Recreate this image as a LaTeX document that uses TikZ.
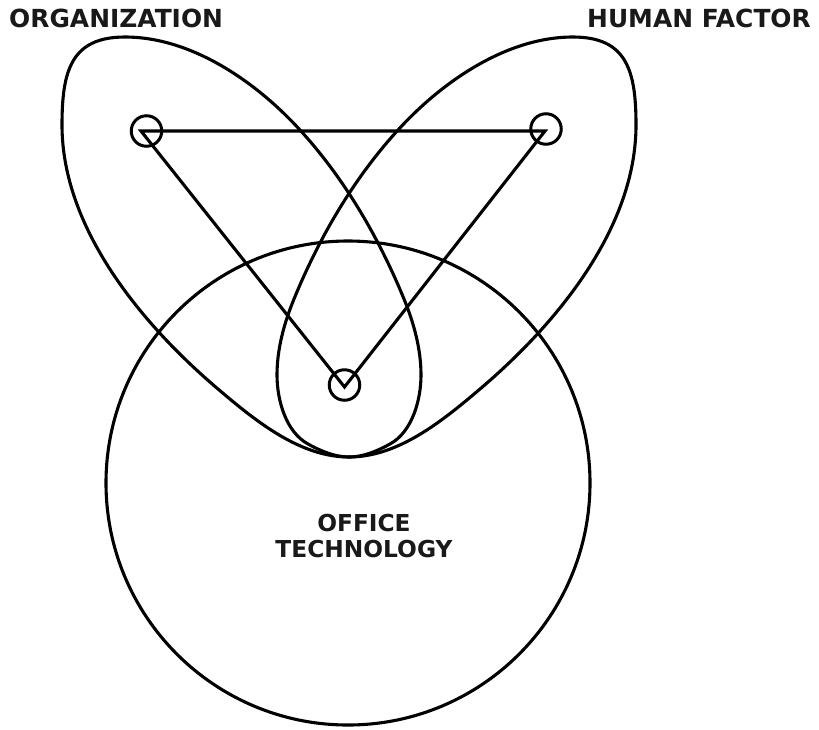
\documentclass[tikz,border=0pt]{standalone}
\usepackage{fontspec}
\setmainfont{DejaVu Sans}
\newcommand{\lobecurve}{%
  (349,457) .. controls (299.8,457) and (255.5,420.9) .. (218,389)
  .. controls (140.1,322.8) and (62,227.2) .. (62,125)
  .. controls (62,71) and (71,37) .. (125,37)
  .. controls (191,37) and (255.5,81.2) .. (300,130)
  .. controls (344.6,178.8) and (378.9,237.8) .. (404,299)
  .. controls (413.9,323.1) and (421,349) .. (421,375)
  .. controls (421,400.2) and (412.1,431.9) .. (390,444)
  .. controls (377.5,450.9) and (363.3,457) .. (349,457) -- cycle}
\begin{document}
\begin{tikzpicture}[x=1pt,y=-1pt,
  curve/.style={draw=black, line width=3.1pt, line join=round},
  vtx/.style={circle, draw=black, line width=3pt, minimum size=30.5pt, inner sep=0pt},
  edge/.style={draw=black, line width=3.1pt, line join=miter},
  toplbl/.style={font=\bfseries\fontsize{24.9}{28}\selectfont, text=black!90, inner sep=0pt},
  midlbl/.style={font=\bfseries\fontsize{23.3}{22}\selectfont, text=black!90, inner sep=0pt, align=center}]
\useasboundingbox (0,0) rectangle (819,729);
% big circle
\node[circle, draw=black, line width=3.1pt, minimum size=484pt, inner sep=0pt] (tech) at (348,483) {};
% left lobe
\draw[curve] \lobecurve;
% right lobe (mirror image)
\begin{scope}[xshift=698pt, xscale=-1]
\draw[curve] \lobecurve;
\end{scope}
% vertices
\node[vtx] (org) at (146.5,131) {};
\node[vtx] (hum) at (546,129) {};
\node[vtx] (off) at (344.5,385) {};
\coordinate (orgv) at (141,131);
\coordinate (humv) at (545,131);
\coordinate (offv) at (344.5,387);
\draw[edge] (orgv) -- (humv) -- (offv) -- cycle;
% labels
\node[toplbl, anchor=base west] (orglbl) at (9,27.5) {ORGANIZATION};
\node[toplbl, anchor=base east] (humlbl) at (811,27.5) {HUMAN FACTOR};
\node[midlbl, anchor=base] (offlbl) at (364,531) {OFFICE};
\node[midlbl, anchor=base] (teclbl) at (364,557) {TECHNOLOGY};
\end{tikzpicture}
\end{document}
